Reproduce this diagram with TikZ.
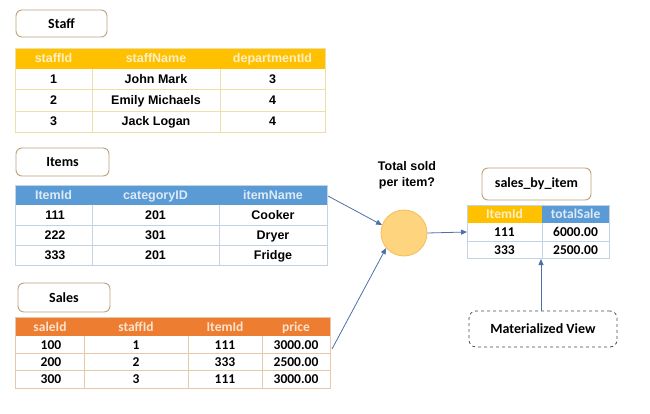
\documentclass[tikz,border=0pt]{standalone}
\usepackage{fontspec}
\setmainfont{Liberation Sans}
\newfontfamily\calib{Carlito}
\usetikzlibrary{arrows.meta}
\definecolor{goldh}{HTML}{FFC000}
\definecolor{blueh}{HTML}{5B9BD5}
\definecolor{orangeh}{HTML}{ED7D31}
\definecolor{goldtx}{HTML}{FDF0C6}
\definecolor{bluetx}{HTML}{DDEAF6}
\definecolor{orangetx}{HTML}{FBE2CF}
\definecolor{stgrid}{HTML}{EEDFA8}
\definecolor{itgrid}{HTML}{C3D3E3}
\definecolor{sagrid}{HTML}{E6C9AA}
\definecolor{lblc}{HTML}{BFA07E}
\definecolor{arrc}{HTML}{4F6FA8}
\definecolor{circf}{HTML}{FFD47F}
\definecolor{circd}{HTML}{F2BE5C}
\begin{document}
\begin{tikzpicture}[x=1pt,y=-1pt,
  lbl/.style={draw=lblc, line width=0.9pt, rounded corners=6pt, inner sep=0pt,
    font=\calib\bfseries\fontsize{14}{16}\selectfont},
  arr/.style={draw=arrc, line width=0.8pt, -{Triangle[length=6pt,width=5pt]}},
  acell/.style={inner sep=0pt, text height=9pt, text depth=0pt, anchor=base, yshift=-4.5pt,
    font=\bfseries\fontsize{12.5}{14}\selectfont},
  ccell/.style={inner sep=0pt, text height=9pt, text depth=0pt, anchor=base, yshift=-4.5pt,
    font=\calib\bfseries\fontsize{13.5}{15}\selectfont}]
\useasboundingbox (0,0) rectangle (650,414);

% ---------- Staff ----------
\node[lbl, minimum width=91pt, minimum height=27pt] (stafflbl) at (61.5,23.5) {Staff};
\fill[goldh] (15,48) rectangle (325,69);
\draw[stgrid, line width=0.8pt] (15,48) rectangle (325,132);
\foreach \y in {89,111} \draw[stgrid, line width=0.8pt] (15,\y) -- (325,\y);
\foreach \x in {92,220} \draw[stgrid, line width=0.8pt] (\x,69) -- (\x,132);
\node[acell, text=goldtx] (sth1) at (53.5,58.5) {staffId};
\node[acell, text=goldtx] (sth2) at (156,58.5) {staffName};
\node[acell, text=goldtx] (sth3) at (272.5,58.5) {departmentId};
\foreach \y/\a/\b/\c [count=\r] in {79/1/John Mark/3, 100/2/Emily Michaels/4, 121.5/3/Jack Logan/4} {
  \node[acell] (st\r a) at (53.5,\y) {\a};
  \node[acell] (st\r b) at (156,\y) {\b};
  \node[acell] (st\r c) at (272.5,\y) {\c};
}

% ---------- Items ----------
\node[lbl, minimum width=93pt, minimum height=28pt] (itemslbl) at (62.5,162) {Items};
\fill[blueh] (15,185) rectangle (327,205);
\draw[itgrid, line width=0.8pt] (15,185) rectangle (327,265);
\foreach \y in {225,245} \draw[itgrid, line width=0.8pt] (15,\y) -- (327,\y);
\foreach \x in {92,219} \draw[itgrid, line width=0.8pt] (\x,205) -- (\x,265);
\node[acell, text=bluetx] (ith1) at (53.5,195) {ItemId};
\node[acell, text=bluetx] (ith2) at (155.5,195) {categoryID};
\node[acell, text=bluetx] (ith3) at (273,195) {itemName};
\foreach \y/\a/\b/\c [count=\r] in {215/111/201/Cooker, 235/222/301/Dryer, 255/333/201/Fridge} {
  \node[acell] (it\r a) at (55,\y) {\a};
  \node[acell] (it\r b) at (155.5,\y) {\b};
  \node[acell] (it\r c) at (273,\y) {\c};
}
\coordinate (itemsout) at (328,196);

% ---------- Sales ----------
\node[lbl, minimum width=92pt, minimum height=29pt] (saleslbl) at (64,297.5) {Sales};
\fill[orangeh] (15,317) rectangle (330,336);
\draw[sagrid, line width=0.8pt] (15,317) rectangle (330,388);
\foreach \y in {353,370} \draw[sagrid, line width=0.8pt] (15,\y) -- (330,\y);
\foreach \x in {84,188,262} \draw[sagrid, line width=0.8pt] (\x,336) -- (\x,388);
\node[ccell, text=orangetx] (sah1) at (50,326.5) {saleId};
\node[ccell, text=orangetx] (sah2) at (136,326.5) {staffId};
\node[ccell, text=orangetx] (sah3) at (225,326.5) {ItemId};
\node[ccell, text=orangetx] (sah4) at (296,326.5) {price};
\foreach \y/\a/\b/\c/\d [count=\r] in {344.5/100/1/111/3000.00, 361.5/200/2/333/2500.00, 379/300/3/111/3000.00} {
  \node[ccell] (sa\r a) at (51,\y) {\a};
  \node[ccell] (sa\r b) at (136,\y) {\b};
  \node[ccell] (sa\r c) at (225,\y) {\c};
  \node[ccell] (sa\r d) at (296,\y) {\d};
}
\coordinate (salesout) at (332,349);

% ---------- Query circle ----------
\node[circle, fill=circf, draw=circd, line width=0.8pt, minimum size=46pt, inner sep=0pt] (circ) at (404,233) {};
\node[align=center, font=\bfseries\fontsize{12.5}{16}\selectfont] (question) at (407,175) {Total sold\\per item?};

% ---------- sales_by_item ----------
\node[lbl, minimum width=109pt, minimum height=32pt] (sbilbl) at (536.5,184) {sales\_by\_item};
\fill[goldh] (467,205) rectangle (542,223);
\fill[blueh] (542,205) rectangle (609,223);
\draw[itgrid, line width=0.8pt] (467,205) rectangle (609,258);
\draw[itgrid, line width=0.8pt] (467,241) -- (609,241);
\draw[itgrid, line width=0.8pt] (542,223) -- (542,258);
\node[ccell, text=goldtx] (sbih1) at (504.5,214) {ItemId};
\node[ccell, text=bluetx] (sbih2) at (575.5,214) {totalSale};
\node[ccell] (sbi1a) at (504.5,232) {111};
\node[ccell] (sbi1b) at (575.5,232) {6000.00};
\node[ccell] (sbi2a) at (504.5,249.5) {333};
\node[ccell] (sbi2b) at (575.5,249.5) {2500.00};
\coordinate (sbiin) at (467,232);
\coordinate (sbibot) at (541,259);

% ---------- Materialized View ----------
\node[draw=black!70, dashed, line width=0.8pt, rounded corners=7pt, inner sep=0pt,
  minimum width=148pt, minimum height=36pt, font=\calib\bfseries\fontsize{14}{16}\selectfont]
  (mv) at (543,329) {Materialized View};

% ---------- Arrows ----------
\draw[arr] (itemsout) -- (circ.160);
\draw[arr] (salesout) -- (circ.220);
\draw[arr] (circ.east) -- (sbiin);
\draw[arr] (mv.north -| sbibot) -- (sbibot);
\end{tikzpicture}
\end{document}
